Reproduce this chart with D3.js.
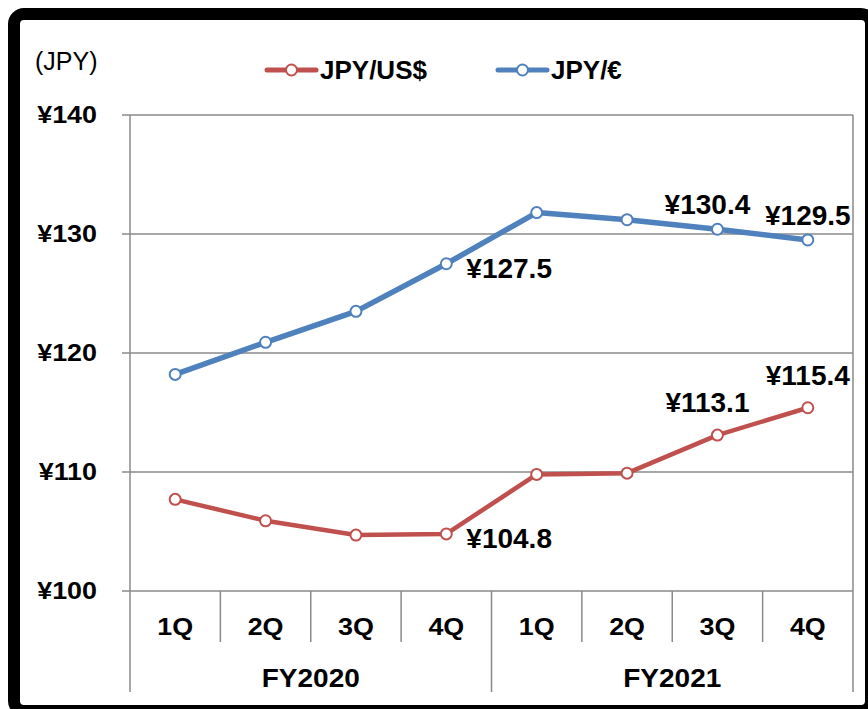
<!DOCTYPE html>
<html>
<head>
<meta charset="utf-8">
<script src="https://cdn.jsdelivr.net/npm/d3@7"></script>
<style>
  body { margin: 0; background: #fff; }
  text { font-family: "Liberation Sans", Arial, sans-serif; font-weight: bold; fill: #000; }
</style>
</head>
<body>
<svg width="868" height="709"></svg>
<script>
// data
const quarters = ["1Q", "2Q", "3Q", "4Q", "1Q", "2Q", "3Q", "4Q"];
const fiscalYears = ["FY2020", "FY2021"];
const usdValues = [107.7, 105.9, 104.7, 104.8, 109.8, 109.9, 113.1, 115.4];
const eurValues = [118.2, 120.9, 123.5, 127.5, 131.8, 131.2, 130.4, 129.5];
const yTicks = [100, 110, 120, 130, 140];
const seriesNames = ["JPY/US$", "JPY/€"];
const labelIndex = [3, 6, 7]; // which points get a value label

let svg = d3.select("svg"),
    plotLeft = 130, plotRight = 853, plotTop = 115, plotBottom = 591;

let x = d3.scaleBand().domain(d3.range(quarters.length)).range([plotLeft, plotRight]);
let y = d3.scaleLinear().domain([100, 140]).range([plotBottom, plotTop]);

let red = "#C0504D", blue = "#4F81BD", grid = "#8a8a8a";

// frame
svg.append("rect")
    .attr("x", 14).attr("y", 14)
    .attr("width", 857).attr("height", 697)
    .attr("rx", 10)
    .attr("fill", "none").attr("stroke", "#000").attr("stroke-width", 12);

// gridlines
svg.append("g").selectAll("line")
    .data(yTicks)
    .enter().append("line")
    .attr("x1", plotLeft - 8).attr("x2", plotRight)
    .attr("y1", d => y(d)).attr("y2", d => y(d))
    .attr("stroke", grid).attr("stroke-width", 1.5);

// y axis line + right border
svg.append("line").attr("x1", plotLeft).attr("x2", plotLeft).attr("y1", plotTop).attr("y2", 692)
    .attr("stroke", grid).attr("stroke-width", 1.5);
svg.append("line").attr("x1", plotRight).attr("x2", plotRight).attr("y1", plotTop).attr("y2", 692)
    .attr("stroke", grid).attr("stroke-width", 1.5);

// tick labels
svg.append("g").selectAll("text")
    .data(yTicks)
    .enter().append("text")
    .attr("transform", d => "translate(97," + y(d) + ") scale(1.12,1)")
    .attr("dy", "0.35em")
    .attr("text-anchor", "end")
    .attr("font-size", 24)
    .text(d => "¥" + d);

// quarter separators
svg.append("g").selectAll("line")
    .data(d3.range(1, quarters.length))
    .enter().append("line")
    .attr("x1", d => x(d)).attr("x2", d => x(d))
    .attr("y1", plotBottom).attr("y2", d => d % 4 === 0 ? 692 : 642)
    .attr("stroke", grid).attr("stroke-width", 1.5);

svg.append("g").selectAll("text")
    .data(quarters)
    .enter().append("text")
    .attr("transform", (d, i) => "translate(" + (x(i) + x.bandwidth() / 2) + ",627) scale(1.12,1)")
    .attr("dy", "0.35em")
    .attr("text-anchor", "middle")
    .attr("font-size", 24)
    .text(d => d);

svg.append("g").selectAll("text")
    .data(fiscalYears)
    .enter().append("text")
    .attr("transform", (d, i) => "translate(" + (x(i * 4) + x.bandwidth() * 2) + ",678) scale(1.12,1)")
    .attr("dy", "0.35em")
    .attr("text-anchor", "middle")
    .attr("font-size", 25)
    .text(d => d);

// lines
let line = d3.line().x((d, i) => x(i) + x.bandwidth() / 2).y(d => y(d));

let series = [
    { name: seriesNames[0], values: usdValues, color: red, width: 4.5 },
    { name: seriesNames[1], values: eurValues, color: blue, width: 5.5 }
];

series.forEach(s => {
    svg.append("path")
        .attr("d", line(s.values))
        .attr("fill", "none")
        .attr("stroke", s.color)
        .attr("stroke-width", s.width)
        .attr("stroke-linejoin", "round");

    svg.append("g").selectAll("circle")
        .data(s.values)
        .enter().append("circle")
        .attr("cx", (d, i) => x(i) + x.bandwidth() / 2)
        .attr("cy", d => y(d))
        .attr("r", 5.5)
        .attr("fill", "#fff")
        .attr("stroke", s.color)
        .attr("stroke-width", 2);

    // value labels
    svg.append("g").selectAll("text")
        .data(labelIndex)
        .enter().append("text")
        .attr("x", i => x(i) + x.bandwidth() / 2 + (i === 3 ? 20 : (i === 6 ? -10 : 0)))
        .attr("y", i => y(s.values[i]) + (i === 3 ? 14 : (s.color === red ? -23 : -15)))
        .attr("text-anchor", i => i === 3 ? "start" : "middle")
        .attr("font-size", 28)
        .text(i => "¥" + s.values[i].toFixed(1));
});

// unit label
svg.append("text")
    .attr("x", 35).attr("y", 61)
    .attr("dy", "0.35em")
    .attr("font-size", 25)
    .style("font-weight", "normal")
    .text("(JPY)");

// legend
let legend = svg.append("g").selectAll("g")
    .data(series)
    .enter().append("g")
    .attr("transform", (d, i) => "translate(" + (i === 0 ? 267 : 498) + ",70)");

legend.append("line")
    .attr("x1", 0).attr("x2", 49)
    .attr("stroke", d => d.color).attr("stroke-width", 5)
    .attr("stroke-linecap", "round");
legend.append("circle")
    .attr("cx", 24.5).attr("r", 5.5)
    .attr("fill", "#fff")
    .attr("stroke", d => d.color).attr("stroke-width", 2);
legend.append("text")
    .attr("x", 53).attr("dy", "0.35em")
    .attr("font-size", 26)
    .text(d => d.name);
</script>
</body>
</html>
